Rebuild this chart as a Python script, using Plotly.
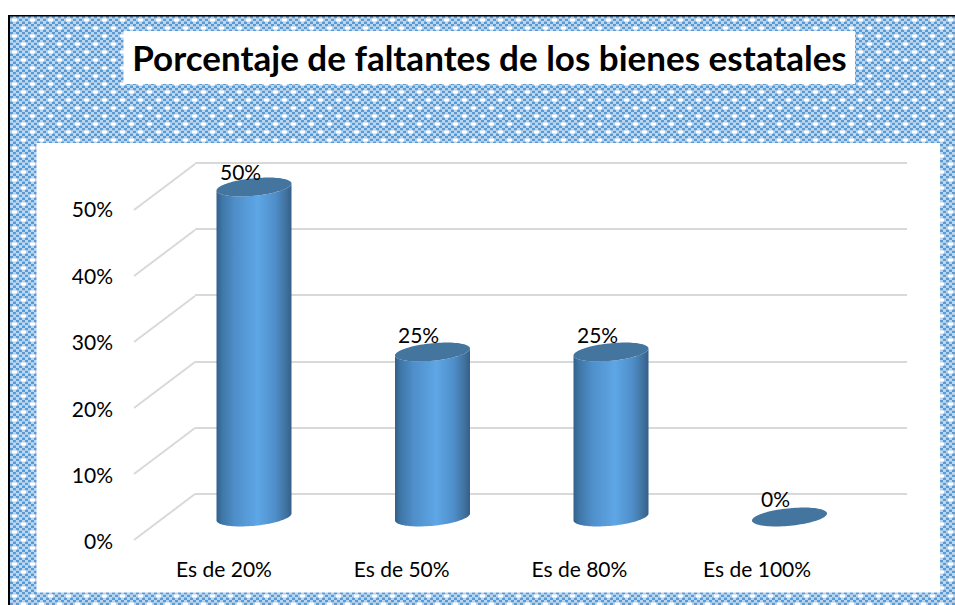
import base64
import numpy as np
import plotly.graph_objects as go

title_text = "Porcentaje de faltantes de los bienes estatales"
categories = ["Es de 20%", "Es de 50%", "Es de 80%", "Es de 100%"]
values = [50, 25, 25, 0]
axis_ticks = [0, 10, 20, 30, 40, 50]

W, H = 955, 605
FONT = "Lato"


def fx(px):
    return px / W


def fy(py):
    return 1 - py / H


# Decorative page background tile (blue check with white dots)
CW, CH = 3, 8 / 3
cells = ""
for r in range(6):
    for c in range(6):
        fill = "#5b9bd5" if (r + c) % 2 == 0 else "#bcd6f0"
        cells += f'<rect x="{c*CW}" y="{r*CH:.3f}" width="{CW}" height="{CH:.3f}" fill="{fill}"/>'
dots = ""
for dx, dy in [(2, 2.5), (11, 10.5)]:
    dots += f'<rect x="{dx}" y="{dy}" width="5" height="3" fill="#fff"/>'
tile = ('<svg xmlns="http://www.w3.org/2000/svg" width="945" height="589"><defs>'
        f'<pattern id="p" width="18" height="16" patternUnits="userSpaceOnUse">{cells}{dots}</pattern>'
        '</defs><rect width="945" height="589" fill="url(#p)"/></svg>')
bg_uri = "data:image/svg+xml;base64," + base64.b64encode(tile.encode()).decode()

# Pixel geometry of the mock-3D plot
BAR_X0, BAR_DX = 254.0, 178.5      # centre of first cylinder and spacing
BAR_Y0, PX_PER_PCT = 517.0, 6.6    # floor of cylinders and scale
BAR_A = 37.5 / BAR_DX
BAR_B = 8.8 / PX_PER_PCT
BAR_TILT = 3.5 / PX_PER_PCT
DEPTH_X_BACK, DEPTH_X_FRONT = (195 - BAR_X0) / BAR_DX, (134 - BAR_X0) / BAR_DX
DEPTH_Y = 23 / PX_PER_PCT
GRID_PAD = 1  # extra axis range so the outer gridlines are drawn
GRID_PX = 6.62

body_scale = [[0, "#34608a"], [0.08, "#3f77a8"], [0.25, "#4f8fca"], [0.55, "#5ea6e6"],
              [0.78, "#4f8fca"], [0.93, "#40719e"], [1, "#355f88"]]

fig = go.Figure()

# Wall gridlines axes (need a trace so that the subplot is drawn)
fig.add_trace(go.Scatter(x=[0], y=[0], xaxis="x", yaxis="y", mode="none",
                         showlegend=False, hoverinfo="skip"))

# Side wall diagonals
for t in axis_ticks:
    fig.add_trace(go.Scatter(
        x=[DEPTH_X_BACK, DEPTH_X_FRONT], y=[t + DEPTH_Y, t - DEPTH_Y],
        xaxis="x2", yaxis="y2", mode="lines", line=dict(color="#d9d9d9", width=2),
        showlegend=False, hoverinfo="skip"))

# Cylinders
front = np.linspace(np.pi, 2 * np.pi, 50)
whole = np.linspace(0, 2 * np.pi, 90)
for i, v in enumerate(values):
    xb = i + BAR_A * np.cos(front)
    yb = BAR_B * np.sin(front) + BAR_TILT * np.cos(front)
    fig.add_trace(go.Scatter(
        x=np.r_[xb, xb[::-1], xb[0]], y=np.r_[yb, yb[::-1] + v, yb[0]],
        xaxis="x2", yaxis="y2", mode="none", fill="toself",
        fillgradient=dict(type="horizontal", colorscale=body_scale),
        showlegend=False, hoverinfo="skip"))
    fig.add_trace(go.Scatter(
        x=i + BAR_A * np.cos(whole),
        y=v + BAR_B * np.sin(whole) + BAR_TILT * np.cos(whole),
        xaxis="x2", yaxis="y2", mode="none", fill="toself", fillcolor="#44759f",
        showlegend=False, hoverinfo="skip"))

# Invisible anchors for the tick label axes
fig.add_trace(go.Scatter(x=[0], y=[0], xaxis="x2", yaxis="y3", mode="none",
                         showlegend=False, hoverinfo="skip"))
fig.add_trace(go.Scatter(x=[0], y=[0], xaxis="x3", yaxis="y2", mode="none",
                         showlegend=False, hoverinfo="skip"))

annotations = [
    dict(x=i, y=v, xref="x2", yref="y2", text=f"{v}%", showarrow=False,
         xshift=-14, yshift=19 - 0.06 * v, font=dict(family=FONT, size=21, color="#000"))
    for i, v in enumerate(values)
]

LABEL_X0, LABEL_DX = 224.0, 177.7

fig.update_layout(
    template="none",
    width=W, height=H, margin=dict(l=0, r=0, t=0, b=0),
    paper_bgcolor="white", plot_bgcolor="rgba(0,0,0,0)", showlegend=False,
    title=dict(text=f"<b>{title_text}</b>", x=fx(489.5), y=fy(59), xref="paper", yref="paper",
               xanchor="center", yanchor="middle", font=dict(family=FONT, size=35, color="#000")),
    images=[dict(source=bg_uri, xref="paper", yref="paper", x=fx(10), y=fy(16),
                 sizex=945 / W, sizey=589 / H, sizing="stretch", xanchor="left",
                 yanchor="top", layer="below")],
    shapes=[
        dict(type="rect", xref="paper", yref="paper", x0=fx(36.5), x1=fx(940), y0=fy(592.5), y1=fy(143),
             fillcolor="white", line_width=0, layer="below"),
        dict(type="rect", xref="paper", yref="paper", x0=fx(123.5), x1=fx(855), y0=fy(84), y1=fy(31),
             fillcolor="white", line_width=0, layer="below"),
        dict(type="rect", xref="paper", yref="paper", x0=fx(8), x1=fx(10), y0=0, y1=fy(15),
             fillcolor="black", line_width=0, layer="below"),
        dict(type="rect", xref="paper", yref="paper", x0=fx(8), x1=1, y0=fy(16.5), y1=fy(15),
             fillcolor="black", line_width=0, layer="below"),
    ],
    annotations=annotations,
    # back wall gridlines
    xaxis=dict(domain=[fx(195), fx(907)], range=[0, 1], visible=False, anchor="y"),
    yaxis=dict(domain=[fy(494 + GRID_PAD * GRID_PX), fy(163 - GRID_PAD * GRID_PX)],
               range=[-GRID_PAD, 50 + GRID_PAD], tickvals=axis_ticks, anchor="x",
               showticklabels=False, ticks="", showgrid=True, gridcolor="#d9d9d9", gridwidth=2,
               zeroline=False, showline=False),
    # cylinders, spanning the page
    xaxis2=dict(domain=[0, 1], range=[-BAR_X0 / BAR_DX, (W - BAR_X0) / BAR_DX], visible=False, anchor="y2"),
    yaxis2=dict(domain=[0, 1], range=[-(H - BAR_Y0) / PX_PER_PCT, BAR_Y0 / PX_PER_PCT],
                visible=False, anchor="x2"),
    # front-plane percentage labels
    yaxis3=dict(domain=[fy(542), fy(210)], range=[0, 50], tickvals=axis_ticks,
                ticktext=[f"{t}%" for t in axis_ticks],
                anchor="free", position=fx(113), side="left", showgrid=False, zeroline=False,
                showline=False, ticks="", tickfont=dict(family=FONT, size=21, color="#000")),
    # category labels
    xaxis3=dict(domain=[0, 1], range=[-LABEL_X0 / LABEL_DX, (W - LABEL_X0) / LABEL_DX],
                tickvals=list(range(len(categories))), ticktext=categories,
                anchor="free", position=fy(555), side="bottom", showgrid=False, zeroline=False,
                showline=False, ticks="", tickangle=0, tickfont=dict(family=FONT, size=21, color="#000")),
)

fig.write_html("out.html", post_script="document.body.style.margin='0';document.documentElement.style.overflow='hidden';",
               config=dict(displayModeBar=False))
